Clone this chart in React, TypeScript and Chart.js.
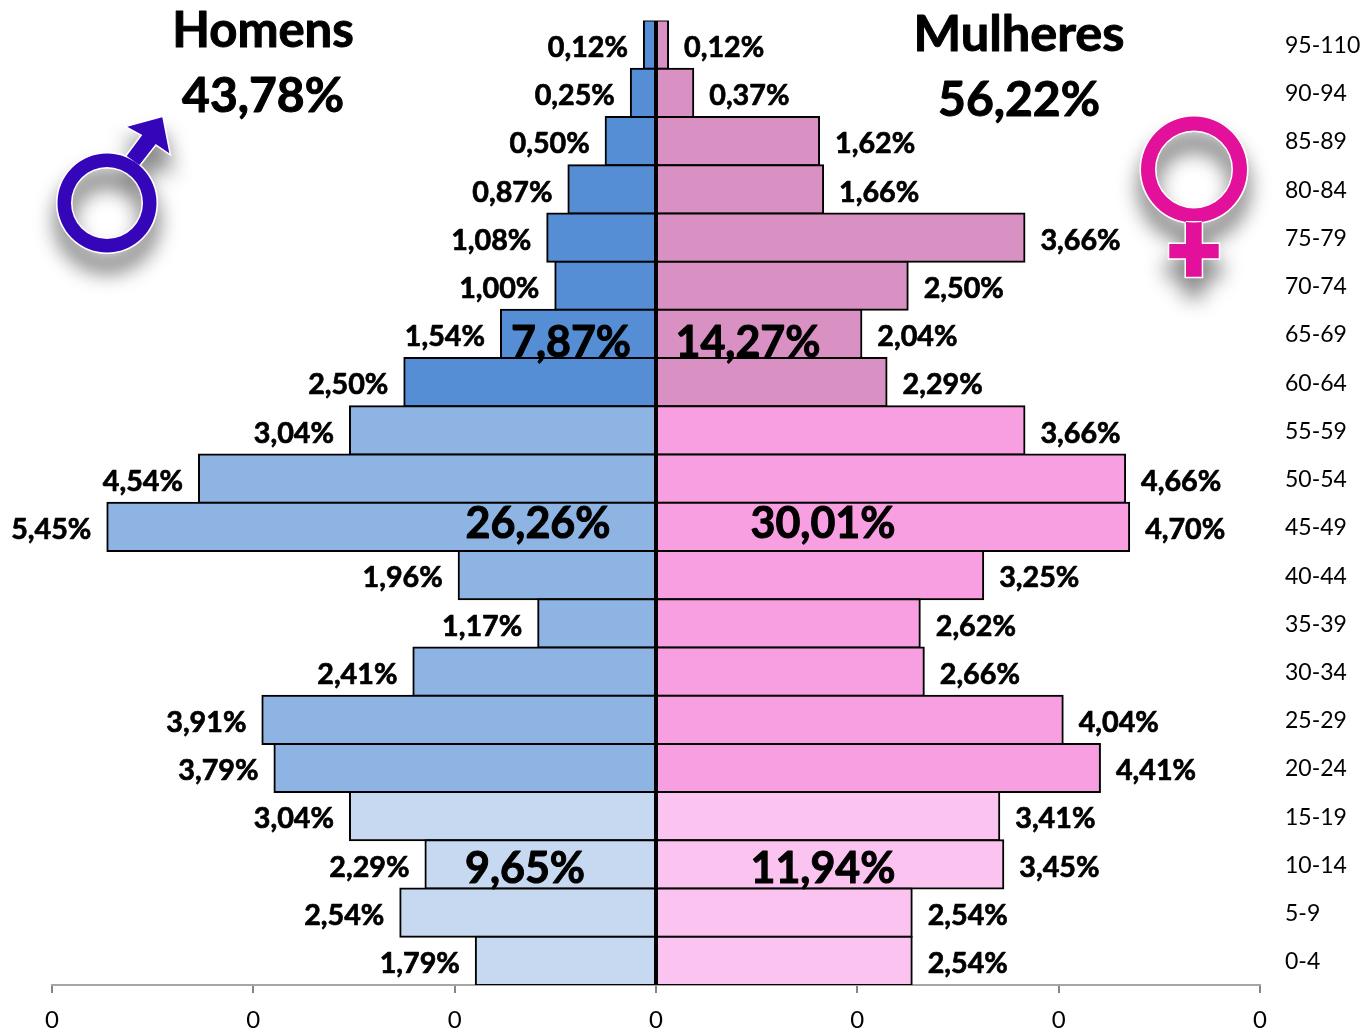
import React, { useEffect, useRef } from "react";
import { Chart, registerables } from "chart.js";

Chart.register(...registerables);

const ageGroups = ["95-110","90-94","85-89","80-84","75-79","70-74","65-69","60-64","55-59","50-54","45-49","40-44","35-39","30-34","25-29","20-24","15-19","10-14","5-9","0-4"];
const menValues = [0.12,0.25,0.50,0.87,1.08,1.00,1.54,2.50,3.04,4.54,5.45,1.96,1.17,2.41,3.91,3.79,3.04,2.29,2.54,1.79];
const womenValues = [0.12,0.37,1.62,1.66,3.66,2.50,2.04,2.29,3.66,4.66,4.70,3.25,2.62,2.66,4.04,4.41,3.41,3.45,2.54,2.54];
const bandOfRow = [0,0,0,0,0,0,0,0,1,1,1,1,1,1,1,1,2,2,2,2];
const menColors = ["#558ED5","#8EB4E3","#C6D9F1"];
const womenColors = ["#D891C2","#F79FE1","#FAC3F0"];
const bandLabels = [
  { text: "7,87%", x: 571, y: 343 },
  { text: "14,27%", x: 748, y: 343 },
  { text: "26,26%", x: 538, y: 524 },
  { text: "30,01%", x: 823, y: 524 },
  { text: "9,65%", x: 525, y: 869 },
  { text: "11,94%", x: 823, y: 869 },
];
const titles = [
  { text: "Homens", x: 263, y: 31, size: 49 },
  { text: "43,78%", x: 263, y: 97, size: 48 },
  { text: "Mulheres", x: 1019, y: 35, size: 50.5 },
  { text: "56,22%", x: 1019, y: 101, size: 48 },
];
const FONT = "Lato, Carlito, sans-serif";

const fmt = (v: number) => Math.abs(v).toFixed(2).replace(".", ",") + "%";

function heavyText(ctx: CanvasRenderingContext2D, text: string, x: number, y: number) {
  ctx.strokeText(text, x, y);
  ctx.fillText(text, x, y);
}

function drawSymbol(ctx: CanvasRenderingContext2D, path: Path2D, fill: string) {
  ctx.save();
  ctx.shadowColor = "rgba(70,70,70,0.7)";
  ctx.shadowBlur = 20;
  ctx.shadowOffsetY = 18;
  ctx.fillStyle = fill;
  ctx.strokeStyle = "#ffffff";
  ctx.lineWidth = 3;
  ctx.stroke(path);
  ctx.fill(path, "evenodd");
  ctx.shadowColor = "transparent";
  ctx.stroke(path);
  ctx.fill(path, "evenodd");
  ctx.restore();
}

function malePath() {
  const p = new Path2D();
  p.arc(107, 203, 49.5, 0, Math.PI * 2);
  p.closePath();
  p.moveTo(143, 203);
  p.arc(107, 203, 36, 0, Math.PI * 2);
  p.closePath();
  p.moveTo(162.3, 117.3);
  p.lineTo(169.3, 153.3);
  p.lineTo(155.7, 144);
  p.lineTo(139.3, 165);
  p.lineTo(126.7, 156);
  p.lineTo(142.3, 135);
  p.lineTo(127.3, 126.7);
  p.closePath();
  return p;
}

function femalePath() {
  const p = new Path2D();
  p.arc(1194, 169.5, 53, 0, Math.PI * 2);
  p.closePath();
  p.moveTo(1233, 169.5);
  p.arc(1194, 169.5, 39, 0, Math.PI * 2);
  p.closePath();
  p.moveTo(1186, 221);
  p.lineTo(1201.7, 221);
  p.lineTo(1201.7, 244);
  p.lineTo(1218.7, 244);
  p.lineTo(1218.7, 258.3);
  p.lineTo(1201.7, 258.3);
  p.lineTo(1201.7, 276.7);
  p.lineTo(1186, 276.7);
  p.lineTo(1186, 258.3);
  p.lineTo(1169.3, 258.3);
  p.lineTo(1169.3, 244);
  p.lineTo(1186, 244);
  p.closePath();
  return p;
}

const annotations = {
  id: "annotations",
  afterDraw(chart: any) {
    const ctx: CanvasRenderingContext2D = chart.ctx;
    ctx.save();
    ctx.fillStyle = "#000";
    ctx.strokeStyle = "#000";
    ctx.lineJoin = "round";
    ctx.textBaseline = "middle";
    ctx.lineWidth = 0.7;
    ctx.font = `bold 28.7px ${FONT}`;
    chart.data.datasets.forEach((ds: any, di: number) => {
      const meta = chart.getDatasetMeta(di);
      ds.data.forEach((v: number, i: number) => {
        const el = meta.data[i];
        ctx.textAlign = v < 0 ? "right" : "left";
        heavyText(ctx, fmt(v), el.x + (v < 0 ? -16 : 16), el.y + 3);
      });
    });
    ctx.textAlign = "center";
    ctx.lineWidth = 1;
    ctx.font = `bold 43px ${FONT}`;
    bandLabels.forEach((l) => heavyText(ctx, l.text, l.x, l.y));
    titles.forEach((l) => {
      ctx.font = `bold ${l.size}px ${FONT}`;
      heavyText(ctx, l.text, l.x, l.y);
    });
    ctx.restore();
    drawSymbol(ctx, malePath(), "#3505BA");
    drawSymbol(ctx, femalePath(), "#E2109A");
  },
};

export default function App() {
  const ref = useRef<HTMLCanvasElement>(null);
  useEffect(() => {
    const chart = new Chart(ref.current as HTMLCanvasElement, {
      type: "bar",
      data: {
        labels: ageGroups,
        datasets: [
          {
            label: "Homens",
            data: menValues.map((v) => -v),
            backgroundColor: bandOfRow.map((b) => menColors[b]),
          },
          {
            label: "Mulheres",
            data: womenValues,
            backgroundColor: bandOfRow.map((b) => womenColors[b]),
          },
        ],
      },
      options: {
        indexAxis: "y",
        responsive: false,
        animation: false,
        layout: { autoPadding: false, padding: { left: 52, top: 20.5, right: 0, bottom: 0 } },
        datasets: {
          bar: {
            barPercentage: 1,
            categoryPercentage: 1,
            borderColor: "#000",
            borderWidth: 2,
            borderSkipped: false,
            inflateAmount: 1,
          },
        },
        plugins: { legend: { display: false }, title: { display: false }, tooltip: { enabled: false } },
        scales: {
          x: {
            stacked: true,
            min: -6,
            max: 6,
            afterFit: (s: any) => { s.height = 44; },
            grid: { drawOnChartArea: false, drawTicks: true, tickLength: 8, color: "#868686", lineWidth: 2 },
            border: { display: true, color: "#A6A6A6", width: 2 },
            ticks: {
              stepSize: 2,
              callback: () => "0",
              color: "#000",
              padding: 13,
              maxRotation: 0,
              font: { family: FONT, size: 24 },
            },
          },
          y: {
            stacked: true,
            position: "right",
            afterFit: (s: any) => { s.width = 103; },
            grid: { display: false, drawTicks: true, tickLength: 25 },
            border: { display: false },
            ticks: {
              color: "#000",
              padding: 0,
              labelOffset: 1,
              autoSkip: false,
              font: { family: FONT, size: 23 },
            },
          },
        },
      },
      plugins: [annotations],
    } as any);
    return () => chart.destroy();
  }, []);
  return (
    <div style={{ position: "absolute", left: 0, top: 0, width: 1363, height: 1029 }}>
      <canvas ref={ref} width={1363} height={1029} style={{ display: "block" }} />
    </div>
  );
}
